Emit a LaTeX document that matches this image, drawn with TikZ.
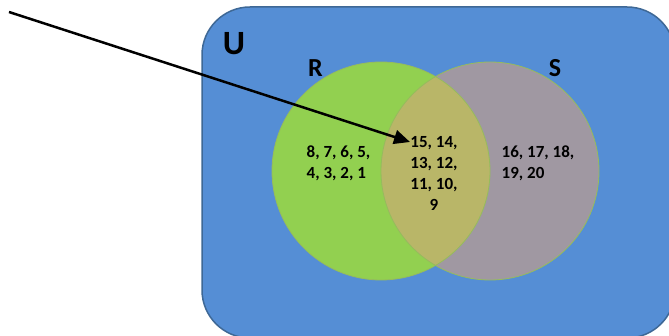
\documentclass[tikz,border=0pt]{standalone}
\usepackage{fontspec}
\setmainfont{Carlito}
\usetikzlibrary{arrows.meta}
\definecolor{univblue}{RGB}{85,142,213}
\definecolor{univedge}{RGB}{62,104,150}
\definecolor{rgreen}{RGB}{146,208,80}
\definecolor{sgrey}{RGB}{160,152,162}
\definecolor{lensolive}{RGB}{185,182,104}
\definecolor{ringedge}{RGB}{150,188,92}

\begin{document}
\begin{tikzpicture}[x=1pt,y=-1pt,>={Triangle[length=16pt,width=14pt]},
			set label/.style={font=\bfseries\fontsize{26}{26}\selectfont,inner sep=0pt},
			elem list/.style={font=\bfseries\fontsize{17}{20.7}\selectfont,inner sep=0pt},
			ring/.style={draw=ringedge,line width=0.8pt}]
			
			\useasboundingbox (0,0) rectangle (669,336);
			\clip (0,0) rectangle (669,336);
			
			% universe
			\draw[fill=univblue,draw=univedge,line width=1.5pt,rounded corners=48pt] (202,7) rectangle (675,338);
			
			% the two sets
			\coordinate (rc) at (381,171);
			\coordinate (sc) at (490,171);
			\fill[rgreen] (rc) circle (109pt);
			\fill[sgrey] (sc) circle (109pt);
			\begin{scope}
				\clip (rc) circle (109pt);
				\fill[lensolive] (sc) circle (109pt);
			\end{scope}
			\draw[ring] (rc) circle (109pt);
			\draw[ring] (sc) circle (109pt);
			
			\node[set label,font=\bfseries\fontsize{34}{34}\selectfont] (U) at (234,44) {U};
			\node[set label] (R) at (315.5,68.5) {R};
			\node[set label] (S) at (555,68) {S};
			
			\node[elem list,align=left] (onlyR) at (338.5,163) {8, 7, 6, 5,\\4, 3, 2, 1};
			\node[elem list,align=center] (both) at (434,173.5) {15, 14,\\13, 12,\\11, 10,\\9};
			\node[elem list,align=left] (onlyS) at (538,163) {16, 17, 18,\\19, 20};
			
			% pointer
			\coordinate (tail) at (9,12);
			\coordinate (tip) at (410,142);
			\draw[->,line width=2.5pt] (tail) -- (tip);
			\end{tikzpicture}
\end{document}
